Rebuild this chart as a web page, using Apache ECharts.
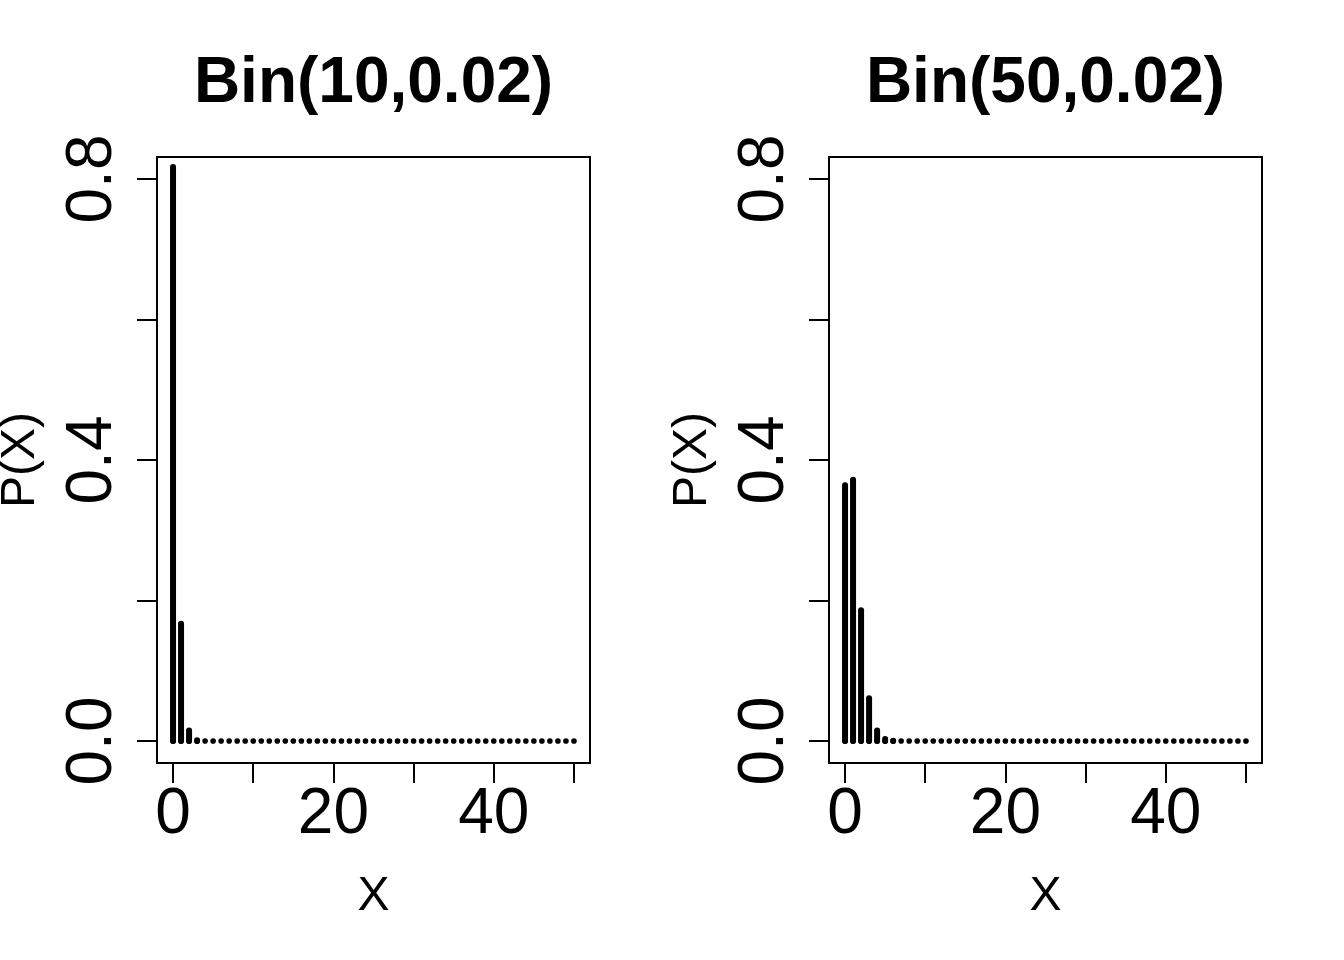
<!DOCTYPE html>
<html>
<head>
<meta charset="utf-8">
<script src="https://cdn.jsdelivr.net/npm/echarts@6/dist/echarts.min.js"></script>
<style>
  html, body { margin: 0; padding: 0; background: #fff; }
  #chart { width: 1344px; height: 960px; }
</style>
</head>
<body>
<div id="chart"></div>
<script>
// x values 0..50
var xValues = [0, 1, 2, 3, 4, 5, 6, 7, 8, 9, 10, 11, 12, 13, 14, 15, 16, 17, 18, 19, 20,
  21, 22, 23, 24, 25, 26, 27, 28, 29, 30, 31, 32, 33, 34, 35, 36, 37, 38, 39, 40,
  41, 42, 43, 44, 45, 46, 47, 48, 49, 50];
// P(X) for Bin(10,0.02)
var probBin10 = [0.817, 0.167, 0.015, 0.001, 0, 0, 0, 0, 0, 0, 0,
  0, 0, 0, 0, 0, 0, 0, 0, 0, 0, 0, 0, 0, 0, 0, 0, 0, 0, 0, 0,
  0, 0, 0, 0, 0, 0, 0, 0, 0, 0, 0, 0, 0, 0, 0, 0, 0, 0, 0, 0];
// P(X) for Bin(50,0.02)
var probBin50 = [0.364, 0.372, 0.186, 0.061, 0.015, 0.003, 0.0004, 0, 0, 0, 0,
  0, 0, 0, 0, 0, 0, 0, 0, 0, 0, 0, 0, 0, 0, 0, 0, 0, 0, 0, 0,
  0, 0, 0, 0, 0, 0, 0, 0, 0, 0, 0, 0, 0, 0, 0, 0, 0, 0, 0, 0];
var titles = ['Bin(10,0.02)', 'Bin(50,0.02)'];
var xTicks = [0, 10, 20, 30, 40, 50];
var xTickLabels = [0, 20, 40];
var yTicks = [0, 0.2, 0.4, 0.6, 0.8];
var yTickLabels = [0, 0.4, 0.8];

var font = '"Liberation Sans", Arial, Helvetica, sans-serif';
var chart = echarts.init(document.getElementById('chart'));

function toPairs(probs) {
  return xValues.map(function (x, i) { return [x, probs[i]]; });
}

function renderSpike(params, api) {
  var base = api.coord([api.value(0), 0]);
  var top = api.coord([api.value(0), api.value(1)]);
  return {
    type: 'group',
    children: [
      { type: 'line', shape: { x1: base[0], y1: base[1], x2: top[0], y2: top[1] },
        style: { stroke: '#000', lineWidth: 6, lineCap: 'round' } },
      { type: 'circle', shape: { cx: base[0], cy: base[1], r: 2.8 }, style: { fill: '#000' } }
    ]
  };
}

function makeX(idx) {
  return {
    type: 'value', gridIndex: idx, min: -2, max: 52,
    name: 'X', nameLocation: 'middle', nameGap: 110,
    nameTextStyle: { fontFamily: font, fontSize: 48, color: '#000' },
    axisLine: { show: false, onZero: false },
    axisTick: { show: true, inside: false, length: 20, customValues: xTicks, lineStyle: { color: '#000', width: 2 } },
    axisLabel: { customValues: xTickLabels, margin: 20, fontFamily: font, fontSize: 64, color: '#000' },
    splitLine: { show: false }
  };
}

function makeY(idx) {
  return {
    type: 'value', gridIndex: idx, min: -0.0313, max: 0.8313,
    name: 'P(X)', nameLocation: 'middle', nameGap: 112,
    nameTextStyle: { fontFamily: font, fontSize: 48, color: '#000' },
    axisLine: { show: false, onZero: false },
    axisTick: { show: true, inside: false, length: 20, customValues: yTicks, lineStyle: { color: '#000', width: 2 } },
    axisLabel: {
      customValues: yTickLabels, margin: 32, rotate: 90, align: 'center', verticalAlign: 'bottom',
      fontFamily: font, fontSize: 64, color: '#000',
      formatter: function (v) { return v.toFixed(1); }
    },
    splitLine: { show: false }
  };
}

var option = {
  backgroundColor: '#fff',
  animation: false,
  graphic: [
    { type: 'text', x: 373.5, y: 84, style: { text: titles[0], font: 'bold 64px ' + font, fill: '#000', textAlign: 'center', textVerticalAlign: 'middle' } },
    { type: 'text', x: 1045.5, y: 84, style: { text: titles[1], font: 'bold 64px ' + font, fill: '#000', textAlign: 'center', textVerticalAlign: 'middle' } }
  ],
  grid: [
    { left: 157, top: 157, width: 433, height: 606, show: true, borderColor: '#000', borderWidth: 2, backgroundColor: 'transparent', containLabel: false, outerBoundsMode: 'none' },
    { left: 829, top: 157, width: 433, height: 606, show: true, borderColor: '#000', borderWidth: 2, backgroundColor: 'transparent', containLabel: false, outerBoundsMode: 'none' }
  ],
  xAxis: [makeX(0), makeX(1)],
  yAxis: [makeY(0), makeY(1)],
  series: [
    { type: 'custom', xAxisIndex: 0, yAxisIndex: 0, renderItem: renderSpike, data: toPairs(probBin10), clip: false },
    { type: 'custom', xAxisIndex: 1, yAxisIndex: 1, renderItem: renderSpike, data: toPairs(probBin50), clip: false }
  ]
};
chart.setOption(option);
</script>
</body>
</html>
